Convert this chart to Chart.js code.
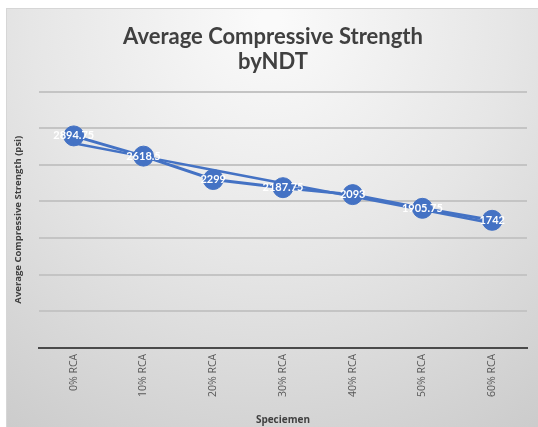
<!DOCTYPE html>
<html>
<head>
<meta charset="utf-8">
<script src="https://cdn.jsdelivr.net/npm/chart.js@4/dist/chart.umd.min.js"></script>
<style>
html,body{margin:0;padding:0;background:#fff;}
#wrap{width:538px;height:427px;position:relative;}
</style>
</head>
<body>
<div id="wrap"><canvas id="c" width="538" height="427"></canvas></div>
<script>
const categories = ['0% RCA','10% RCA','20% RCA','30% RCA','40% RCA','50% RCA','60% RCA'];
const strengthValues = [2894.75, 2618.5, 2299, 2187.75, 2093, 1905.75, 1742];
const trendValues = [2794, 2612, 2430, 2249, 2067, 1885, 1703];
const yTicks = [0, 500, 1000, 1500, 2000, 2500, 3000, 3500];

const bgPlugin = {
  id: 'bg',
  beforeDraw(chart) {
    const ctx = chart.ctx;
    ctx.save();
    ctx.fillStyle = '#ffffff';
    ctx.fillRect(0, 0, chart.width, chart.height);
    const x0 = 6, y0 = 8, w = chart.width - 6, h = chart.height - 8;
    const g = ctx.createRadialGradient(270, 20, 10, 270, 20, 520);
    g.addColorStop(0, '#fafafa');
    g.addColorStop(0.45, '#e6e6e6');
    g.addColorStop(1, '#c8c8c8');
    ctx.fillStyle = g;
    ctx.fillRect(x0, y0, w, h);
    ctx.strokeStyle = '#d6d6d6';
    ctx.lineWidth = 1;
    ctx.strokeRect(x0 + 0.5, y0 + 0.5, w, h);
    ctx.restore();
  }
};

const labelPlugin = {
  id: 'valueLabels',
  afterDatasetsDraw(chart) {
    const ctx = chart.ctx;
    const meta = chart.getDatasetMeta(0);
    const ds = chart.data.datasets[0];
    ctx.save();
    ctx.font = 'bold 11px Lato, "Open Sans", sans-serif';
    ctx.fillStyle = '#ffffff';
    ctx.textAlign = 'center';
    ctx.textBaseline = 'middle';
    meta.data.forEach((pt, i) => {
      ctx.fillText(String(ds.data[i]), pt.x, pt.y);
    });
    ctx.restore();
  }
};

new Chart(document.getElementById('c'), {
  type: 'line',
  data: {
    labels: categories,
    datasets: [
      {
        label: 'Average Compressive Strength',
        data: strengthValues,
        borderColor: '#4472C4',
        backgroundColor: '#4472C4',
        borderWidth: 3,
        pointRadius: 10,
        pointBackgroundColor: '#4472C4',
        pointBorderColor: '#4472C4',
        pointBorderWidth: 1,
        tension: 0,
        order: 2
      },
      {
        label: 'Linear trend',
        data: trendValues,
        borderColor: '#4472C4',
        borderWidth: 2.5,
        pointRadius: 0,
        tension: 0,
        order: 1
      }
    ]
  },
  options: {
    responsive: false,
    animation: false,
    devicePixelRatio: 1,
    layout: { padding: { top: 14, left: 13, right: 5, bottom: 0 } },
    plugins: {
      legend: { display: false },
      tooltip: { enabled: false },
      title: {
        display: true,
        text: ['Average Compressive Strength', 'byNDT'],
        color: '#404040',
        font: { family: 'Lato, "Open Sans", sans-serif', size: 22, weight: 'bold', lineHeight: 1.15 },
        padding: { top: 10, bottom: 17 }
      }
    },
    scales: {
      x: {
        offset: true,
        grid: { display: false, drawTicks: false },
        border: { display: true, color: '#4a4a4a', width: 2 },
        ticks: {
          color: '#595959',
          font: { family: '"Open Sans", sans-serif', size: 10.5 },
          minRotation: 90,
          maxRotation: 90,
          padding: 6
        },
        title: {
          display: true,
          text: 'Speciemen',
          color: '#404040',
          font: { family: '"Open Sans", sans-serif', size: 10, weight: 'bold' },
          padding: { top: 11, bottom: 1 }
        }
      },
      y: {
        min: 0,
        max: 3500,
        afterBuildTicks(scale) { scale.ticks = yTicks.map(v => ({ value: v })); },
        grid: { color: '#c4c4c4', lineWidth: 2, drawTicks: false },
        border: { display: false },
        ticks: { display: false },
        title: {
          display: true,
          text: 'Average Compressive Strength (psi)',
          color: '#404040',
          font: { family: '"Open Sans", sans-serif', size: 9.5, weight: 'bold' },
          padding: { top: 0, bottom: 14.5 }
        }
      }
    }
  },
  plugins: [bgPlugin, labelPlugin]
});
</script>
</body>
</html>
